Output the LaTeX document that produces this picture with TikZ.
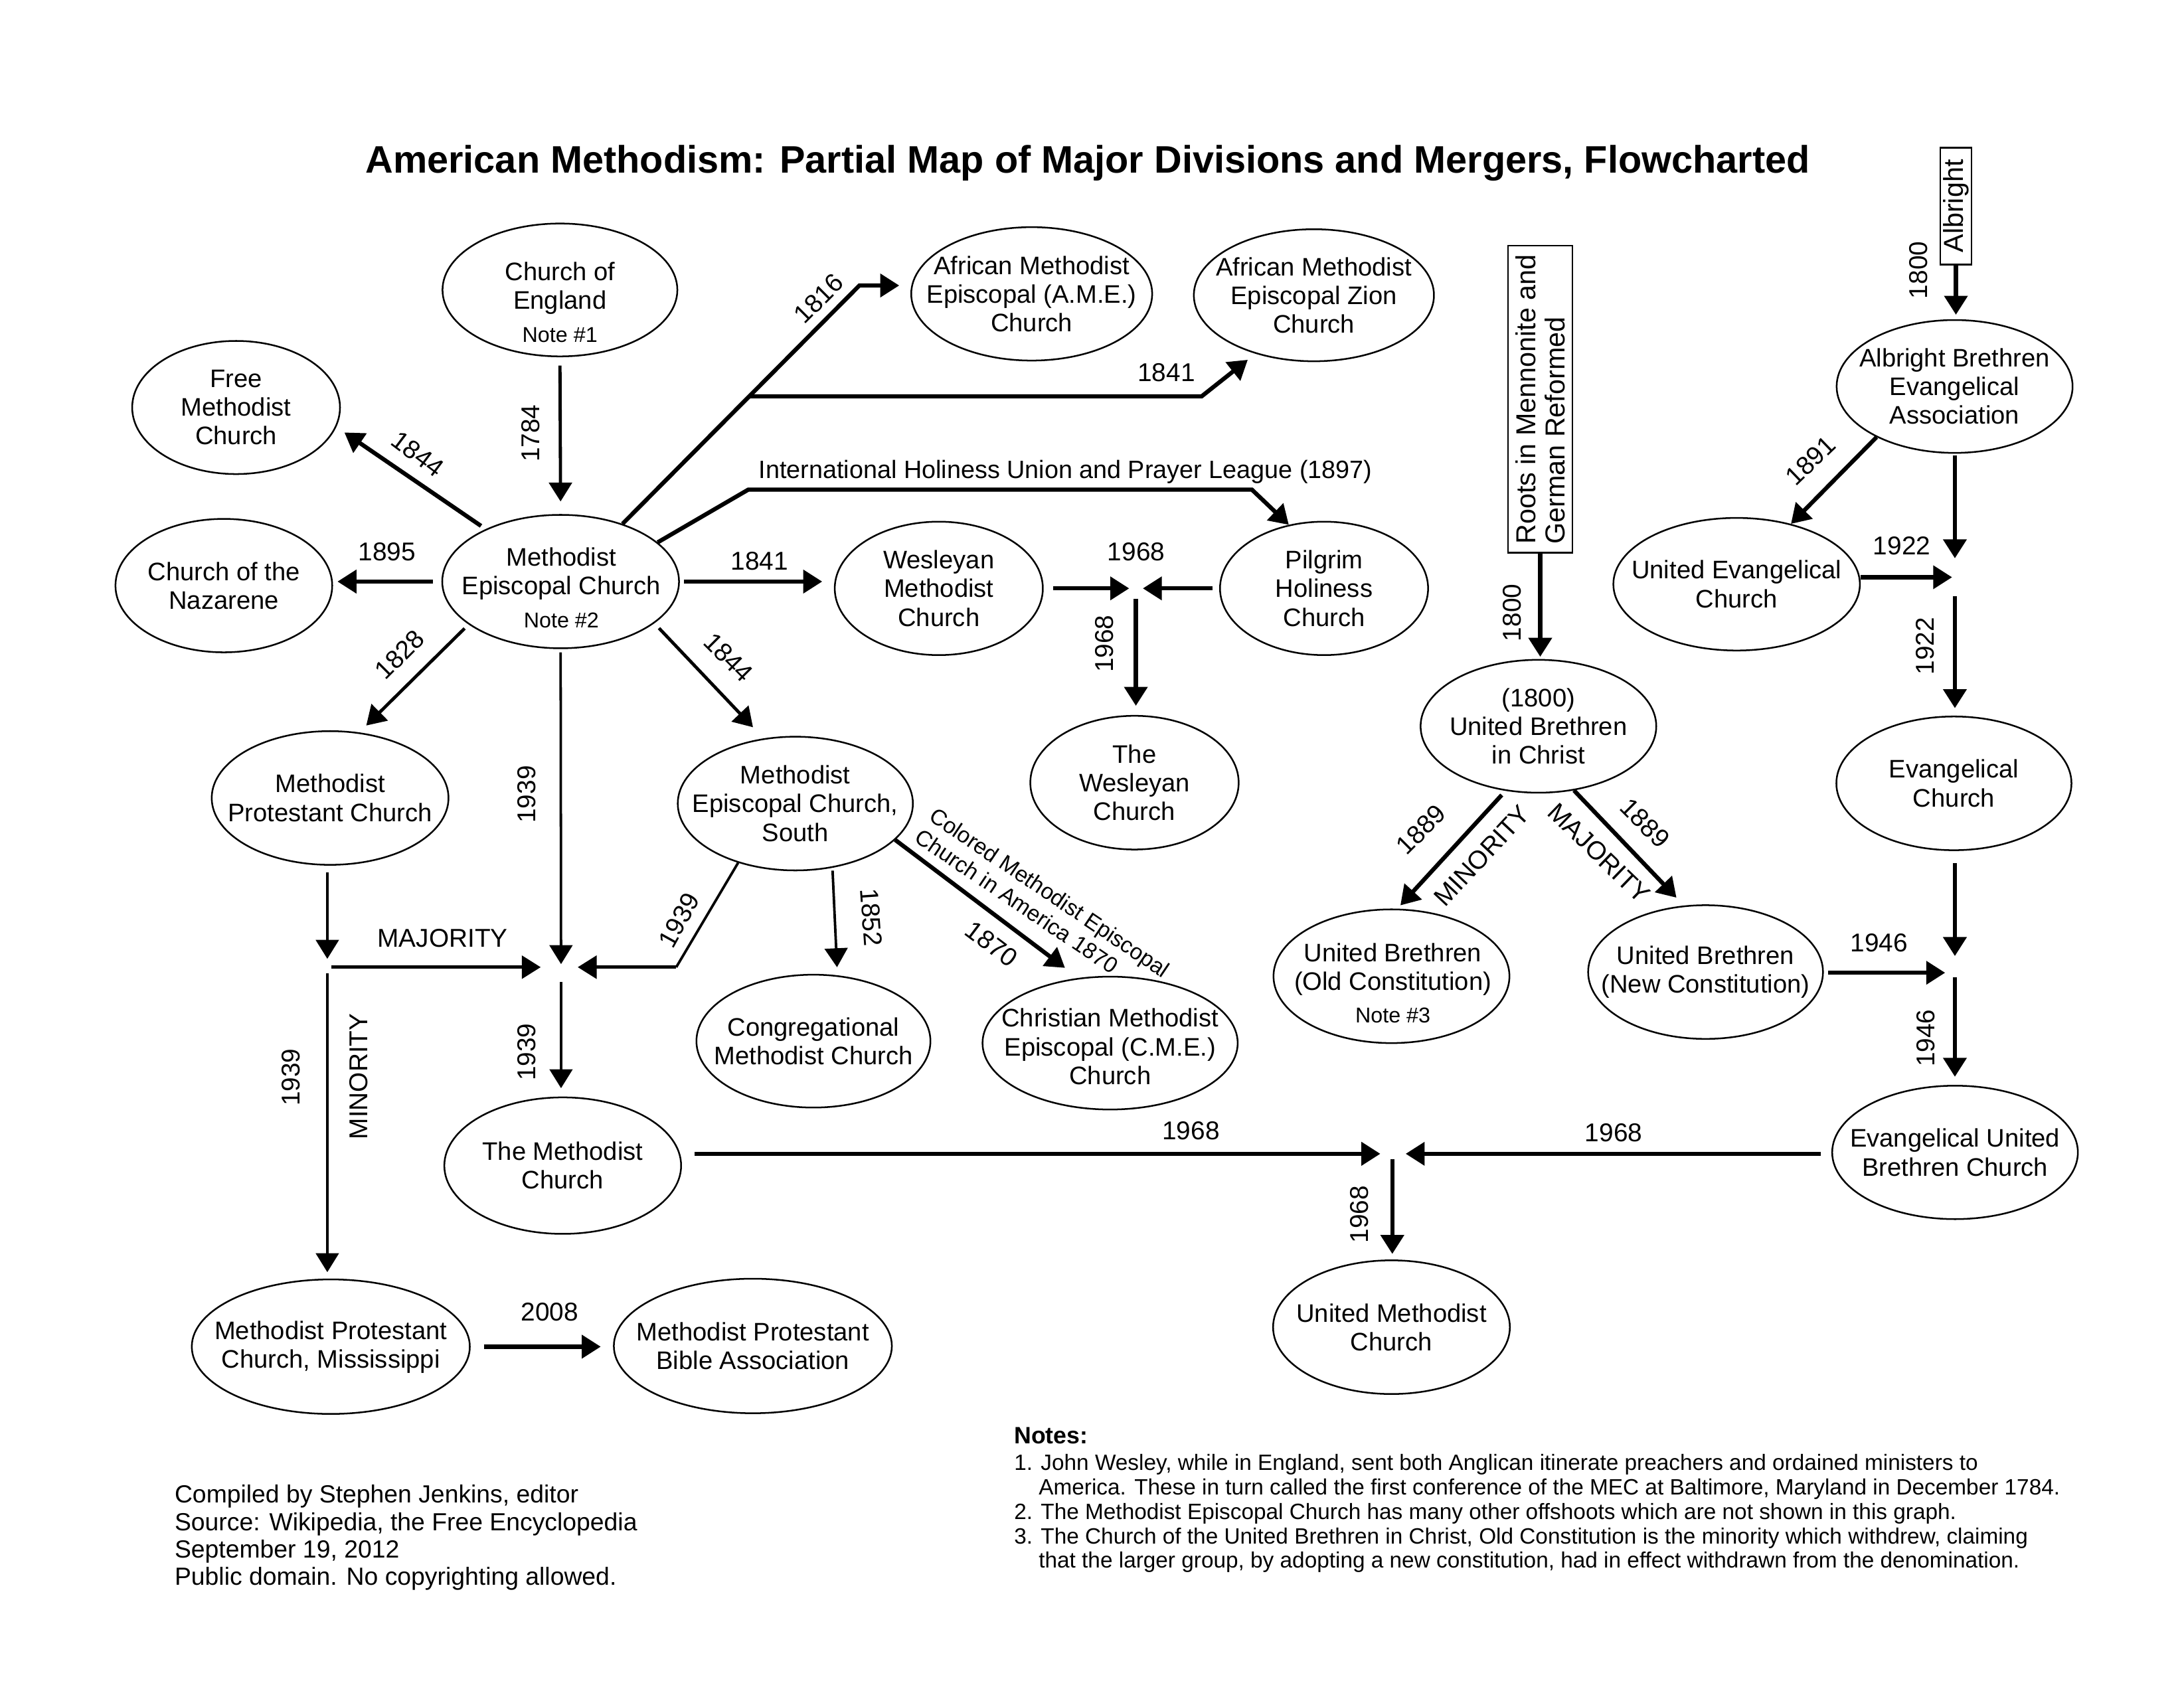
\documentclass[tikz,border=0pt]{standalone}
\usepackage{fontspec}
\setmainfont{Liberation Sans}
\usetikzlibrary{shapes.geometric,arrows.meta}
\newcommand\nodefnt{\fontsize{9.1}{10.3}\selectfont}
\newcommand\labfnt{\fontsize{9.25}{10.5}\selectfont}
\newcommand\notefnt{\fontsize{7.7}{9}\selectfont}
\begin{document}
\begin{tikzpicture}[x=0.5pt,y=-0.5pt,
  ell/.style 2 args={ellipse,draw,line width=0.6pt,minimum width=#1pt,minimum height=#2pt,inner sep=0pt},
  txt/.style={align=center,font=\nodefnt,inner sep=0pt},
  lab/.style={font=\labfnt,inner sep=0pt},
  boxnode/.style={draw,line width=0.6pt,inner sep=0pt},
  heavy/.style={-{Triangle[length=6.8pt,width=8.2pt]},line width=1.5pt},
  mid/.style={-{Triangle[length=6.8pt,width=8.2pt]},line width=1.15pt},
  thinarr/.style={-{Triangle[length=6.8pt,width=8.2pt]},line width=0.9pt},
  thinln/.style={line width=0.9pt}]
\useasboundingbox (0,0) rectangle (1568,1211);

% title
\node[font=\fontsize{13.75}{16}\selectfont\bfseries,anchor=base west,inner sep=0pt] (title) at (262,124)
  {American Methodism: Partial Map of Major Divisions and Mergers, Flowcharted};

% ellipses
\node[ell={84.3}{47.7}] (coe) at (402,208.2) {};
\node[txt] (coe-t) at (402,217) {Church of\\England\\[1.5pt]{\notefnt Note \#1}};
\node[ell={74.6}{47.8}] (fm) at (169.5,292.6) {};
\node[txt] (fm-t) at (fm) {Free\\Methodist\\Church};
\node[ell={85}{47.9}] (mec) at (402.5,417.6) {};
\node[txt] (mec-t) at (403,422) {Methodist\\Episcopal Church\\[1.5pt]{\notefnt Note \#2}};
\node[ell={77.8}{47.9}] (naz) at (160.7,420.5) {};
\node[txt] (naz-t) at (naz) {Church of the\\Nazarene};
\node[ell={86.5}{47.9}] (ame) at (740.7,211) {};
\node[txt] (ame-t) at (ame) {African Methodist\\Episcopal (A.M.E.)\\Church};
\node[ell={86.2}{47.4}] (amez) at (943.3,212) {};
\node[txt] (amez-t) at (amez) {African Methodist\\Episcopal Zion\\Church};
\node[ell={74.7}{47.9}] (wmc) at (674,422.5) {};
\node[txt] (wmc-t) at (wmc) {Wesleyan\\Methodist\\Church};
\node[ell={74.7}{47.9}] (phc) at (950.6,422.5) {};
\node[txt] (phc-t) at (phc) {Pilgrim\\Holiness\\Church};
\node[ell={74.8}{48}] (twc) at (814.5,562) {};
\node[txt] (twc-t) at (twc) {The\\Wesleyan\\Church};
\node[ell={85}{48}] (mpc) at (237,573) {};
\node[txt] (mpc-t) at (mpc) {Methodist\\Protestant Church};
\node[ell={84.4}{48}] (mecs) at (571,577) {};
\node[txt] (mecs-t) at (mecs) {Methodist\\Episcopal Church,\\South};
\node[ell={84}{47.7}] (cmc) at (584,747.6) {};
\node[txt] (cmc-t) at (cmc) {Congregational\\Methodist Church};
\node[ell={91.6}{47.7}] (cme) at (797,749) {};
\node[txt] (cme-t) at (797,751.5) {Christian Methodist\\Episcopal (C.M.E.)\\Church};
\node[ell={85}{49}] (tmc) at (404,837) {};
\node[txt] (tmc-t) at (tmc) {The Methodist\\Church};
\node[ell={99.8}{48.3}] (mpm) at (237.5,967) {};
\node[txt] (mpm-t) at (237.5,967.5) {Methodist Protestant\\Church, Mississippi};
\node[ell={99.8}{48.3}] (mpba) at (540.5,966.5) {};
\node[txt] (mpba-t) at (mpba) {Methodist Protestant\\Bible Association};
\node[ell={85}{48}] (umc) at (999,953) {};
\node[txt] (umc-t) at (umc) {United Methodist\\Church};
\node[ell={84.7}{47.7}] (abea) at (1403.3,277.5) {};
\node[txt] (abea-t) at (abea) {Albright Brethren\\Evangelical\\Association};
\node[ell={88.5}{47.6}] (uec) at (1246.8,419.5) {};
\node[txt] (uec-t) at (uec) {United Evangelical\\Church};
\node[ell={84.4}{48}] (ec) at (1402.8,562.5) {};
\node[txt] (ec-t) at (ec) {Evangelical\\Church};
\node[ell={84.6}{47.7}] (ubc) at (1104.5,521.5) {};
\node[txt] (ubc-t) at (ubc) {(1800)\\United Brethren\\in Christ};
\node[ell={84.7}{48}] (ubo) at (999,701) {};
\node[txt] (ubo-t) at (1000,706) {United Brethren\\(Old Constitution)\\[1.5pt]{\notefnt Note \#3}};
\node[ell={84.3}{48}] (ubn) at (1224.5,698) {};
\node[txt] (ubn-t) at (ubn) {United Brethren\\(New Constitution)};
\node[ell={88.2}{47.9}] (eub) at (1403.6,827.5) {};
\node[txt] (eub-t) at (eub) {Evangelical United\\Brethren Church};

% boxes
\node[boxnode,minimum width=23.2pt,minimum height=110.3pt] (roots) at (1105.8,286.7) {};
\node[align=left,font=\fontsize{9.85}{10.5}\selectfont,inner sep=0pt,rotate=90] (roots-t) at (roots) {Roots in Mennonite and\\German Reformed};
\node[boxnode,minimum width=11.25pt,minimum height=42pt] (albr) at (1404.25,148) {};
\node[font=\fontsize{9.85}{10.5}\selectfont,inner sep=0pt,rotate=90] (albr-t) at (albr) {Albright};

% junctions and bends
\coordinate (c1816) at (617,205);
\coordinate (b1841) at (537.9,284.6);
\coordinate (c1841) at (862.7,284.6);
\coordinate (i1) at (537.2,351.6);
\coordinate (i2) at (898.8,351.6);
\coordinate (j1968a) at (815.5,422.5);
\coordinate (jm) at (235,694.5);
\coordinate (j1939) at (402.8,694.5);
\coordinate (c1939) at (485.5,694.5);
\coordinate (jumc) at (999.6,828.5);
\coordinate (j1946) at (1403.5,698.5);
\coordinate (j1922) at (1403.5,414.5);

% connectors
\draw[mid,shorten <=3pt,shorten >=4.5pt] (coe.south) -- (mec.north);
\draw[heavy,shorten <=2pt,shorten >=3.5pt] (mec.145) -- (fm.-11);
\draw[heavy,shorten <=3pt,shorten >=1.6pt] (mec.west) -- (mec.west -| naz.east);
\draw[heavy,shorten >=4pt] (mec.43) -- (c1816) -- (c1816 -| ame.west);
\draw[heavy,shorten >=3.5pt] (b1841) -- (c1841) -- (amez.-135);
\draw[heavy] (mec.22) -- (i1) -- (i2) -- (phc.119);
\draw[heavy,shorten <=1.5pt,shorten >=4.2pt] (mec.east) -- (mec.east -| wmc.west);
\draw[heavy,shorten <=3.3pt,shorten >=2.4pt] (j1968a -| wmc.east) -- (j1968a);
\draw[heavy,shorten <=2.3pt,shorten >=2.5pt] (j1968a -| phc.west) -- (j1968a);
\draw[heavy,shorten <=3.7pt,shorten >=3.3pt] (j1968a) -- (j1968a |- twc.north);
\draw[mid,shorten <=2pt,shorten >=3.5pt] (mec.-155) -- (mpc.66);
\draw[mid,shorten <=2.4pt,shorten >=5.5pt] (mec.-24) -- (mecs.116);
\draw[thinarr,shorten <=1.2pt,shorten >=1.1pt] (mec.south) -- (j1939);
\draw[thinarr,shorten <=2.4pt,shorten >=3pt] (jm |- mpc.south) -- (jm);
\draw[mid,shorten <=1.5pt,shorten >=7.3pt] (jm) -- (j1939);
\draw[thinarr,shorten <=2.3pt,shorten >=2.3pt] (jm) -- (jm |- mpm.north);
\draw[thinln] (mecs.226) -- (c1939);
\draw[mid,shorten >=6pt] (c1939) -- (j1939);
\draw[thinarr,shorten <=5.3pt,shorten >=3pt] (j1939) -- (j1939 |- tmc.north);
\draw[thinarr,shorten <=1pt,shorten >=2.9pt] (mecs.-60) -- (cmc.70);
\draw[heavy,shorten >=6pt] (mecs.-20) -- (cme.116);
\draw[heavy,shorten <=4.5pt,shorten >=4.3pt] (jumc -| tmc.east) -- (jumc);
\draw[heavy,shorten <=3.7pt,shorten >=4.8pt] (jumc -| eub.west) -- (jumc);
\draw[heavy,shorten <=2pt,shorten >=2pt] (jumc) -- (jumc |- umc.north);
\draw[heavy,shorten <=4.8pt,shorten >=4.4pt] (mpm.east) -- (mpm.east -| mpba.west);
\draw[heavy,shorten >=0.8pt] (roots.south) -- (roots.south |- ubc.north);
\draw[heavy,shorten <=2pt,shorten >=1.6pt] (ubc.243) -- (ubo.85);
\draw[heavy,shorten >=3.9pt] (ubc.-61) -- (ubn.108);
\draw[heavy,shorten <=1.5pt,shorten >=3.5pt] (j1946 -| ubn.east) -- (j1946);
\draw[heavy,shorten <=4.4pt,shorten >=6pt] (j1946 |- ec.south) -- (j1946);
\draw[heavy,shorten <=1.7pt,shorten >=2.9pt] (j1946) -- (j1946 |- eub.north);
\draw[heavy,shorten >=1.6pt] (albr.south) -- (albr.south |- abea.north);
\draw[heavy] (abea.213) -- (uec.48);
\draw[heavy,shorten <=0.7pt,shorten >=6.8pt] (j1922 |- abea.south) -- (j1922);
\draw[heavy,shorten >=1pt] (j1922 -| uec.east) -- (j1922);
\draw[heavy,shorten <=6.8pt,shorten >=2.7pt] (j1922) -- (j1922 |- ec.north);

% labels
\node[lab,rotate=90] (l1784) at (380.9,311.2) {1784};
\node[lab,rotate=-37] (l1844a) at (299.9,326) {1844};
\node[lab] (l1895) at (277.8,396.4) {1895};
\node[lab,rotate=45] (l1816) at (587.8,214.4) {1816};
\node[lab] (l1841a) at (837.4,267.6) {1841};
\node[font=\fontsize{9}{10.3}\selectfont,inner sep=0pt] (lihu) at (765,339) {International Holiness Union and Prayer League (1897)};
\node[lab] (l1841b) at (545.3,402.7) {1841};
\node[lab] (l1968a) at (815.7,396.4) {1968};
\node[lab,rotate=90] (l1968b) at (792.8,462.3) {1968};
\node[lab,rotate=45] (l1828) at (287,470) {1828};
\node[lab,rotate=-45] (l1844b) at (523,472) {1844};
\node[lab,rotate=90] (l1939a) at (378,570.4) {1939};
\node[lab] (lmaj) at (317.8,673.6) {MAJORITY};
\node[lab,rotate=61] (l1939b) at (487.4,660.8) {1939};
\node[lab,rotate=-86] (l1852) at (625.5,658.7) {1852};
\node[lab,rotate=-37] (l1870) at (711.9,677.8) {1870};
\node[font=\fontsize{8}{9.2}\selectfont,align=left,inner sep=0pt,rotate=-34] (lcme) at (748.5,648.5) {Colored Methodist Episcopal\\Church in America 1870};
\node[lab,rotate=90] (l1939c) at (378,755.5) {1939};
\node[lab,rotate=90] (l1939d) at (208.9,773.6) {1939};
\node[lab,rotate=90] (lmin) at (257.5,773) {MINORITY};
\node[lab] (l2008) at (394.6,942) {2008};
\node[lab] (l1968c) at (855,812) {1968};
\node[lab] (l1968d) at (1158.5,813.6) {1968};
\node[lab,rotate=90] (l1968e) at (976,872) {1968};
\node[lab,rotate=90] (l1800a) at (1085.6,440) {1800};
\node[lab,rotate=45] (l1889a) at (1020.2,595.6) {1889};
\node[lab,rotate=47] (lminb) at (1064,614.3) {MINORITY};
\node[lab,rotate=-45] (l1889b) at (1181,591) {1889};
\node[lab,rotate=-44] (lmajb) at (1148,612.5) {MAJORITY};
\node[lab] (l1946a) at (1349,677.2) {1946};
\node[lab,rotate=90] (l1946b) at (1382.6,745.4) {1946};
\node[lab,rotate=90] (l1800b) at (1377.5,194) {1800};
\node[lab,rotate=44] (l1891) at (1299.9,331) {1891};
\node[lab] (l1922a) at (1365.4,392) {1922};
\node[lab,rotate=90] (l1922b) at (1382,464) {1922};

% credits and notes
\node[font=\fontsize{8.9}{9.85}\selectfont,align=left,anchor=north west,inner sep=0pt] (credits) at (125,1066)
  {Compiled by Stephen Jenkins, editor\\Source: Wikipedia, the Free Encyclopedia\\September 19, 2012\\Public domain. No copyrighting allowed.};
\node[font=\fontsize{8.5}{10}\selectfont\bfseries,anchor=base west,inner sep=0pt] (notesh) at (727.7,1036.5) {Notes:};
\node[font=\fontsize{7.95}{8.75}\selectfont,align=left,anchor=north west,inner sep=0pt] (notes) at (727.7,1044)
  {1. John Wesley, while in England, sent both Anglican itinerate preachers and ordained ministers to\\
   \hphantom{1.\ }America. These in turn called the first conference of the MEC at Baltimore, Maryland in December 1784.\\
   2. The Methodist Episcopal Church has many other offshoots which are not shown in this graph.\\
   3. The Church of the United Brethren in Christ, Old Constitution is the minority which withdrew, claiming\\
   \hphantom{3.\ }that the larger group, by adopting a new constitution, had in effect withdrawn from the denomination.};
\end{tikzpicture}
\end{document}
